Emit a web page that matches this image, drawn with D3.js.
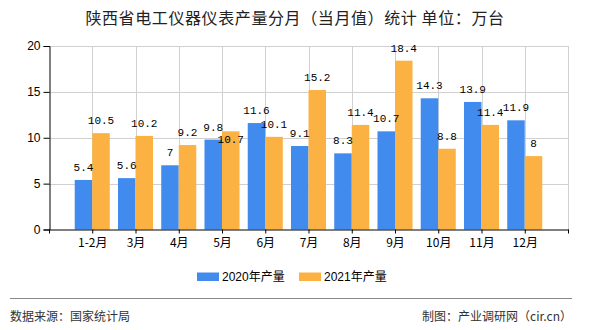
<!DOCTYPE html>
<html><head><meta charset="utf-8">
<script src="https://cdn.jsdelivr.net/npm/d3@7"></script>
<style>body{margin:0;background:#fff;}svg{display:block;}</style>
</head><body>
<svg id="c" width="590" height="330"></svg>
<script>
const categories = ["1-2月","3月","4月","5月","6月","7月","8月","9月","10月","11月","12月"];
const values2020 = [5.4,5.6,7,9.8,11.6,9.1,8.3,10.7,14.3,13.9,11.9];
const values2021 = [10.5,10.2,9.2,10.7,10.1,15.2,11.4,18.4,8.8,11.4,8];
const seriesNames = ["2020年产量","2021年产量"];
const yTicks = [0,5,10,15,20];
const colors = ["#418BEE","#FBB242"];

const svg = d3.select("#c");
const L = 49, R = 568, T = 46, B = 229.5;
const step = (R - L) / (categories.length + 1);
const x = d3.scalePoint().domain(categories).range([L + step, R - step]);
const y = d3.scaleLinear().domain([0, 20]).range([B, T]);
const bw = step * 0.405;

// title
svg.append("text").attr("x", 295).attr("y", 24).attr("text-anchor","middle")
  .attr("font-family","'Noto Sans CJK SC'").attr("font-size",16).attr("letter-spacing","0.6px")
  .attr("fill","#222").text("陕西省电工仪器仪表产量分月（当月值）统计 单位：万台");

// grid
const g = svg.append("g");
g.selectAll(".hg").data(yTicks.filter(d=>d>0)).join("line")
  .attr("x1",L).attr("x2",R).attr("y1",d=>Math.round(y(d))+0.5).attr("y2",d=>Math.round(y(d))+0.5)
  .attr("stroke","#d0d0d0").attr("stroke-width",1);
g.selectAll(".vg").data(categories).join("line")
  .attr("x1",d=>Math.round(x(d))+0.5).attr("x2",d=>Math.round(x(d))+0.5).attr("y1",T).attr("y2",B)
  .attr("stroke","#d0d0d0");
g.append("line").attr("x1",R+0.5).attr("x2",R+0.5).attr("y1",T).attr("y2",B).attr("stroke","#d0d0d0");

// bars
const bars = svg.append("g");
[values2020, values2021].forEach((vals, si) => {
  bars.selectAll(".b"+si).data(vals).join("rect")
    .attr("x",(d,i)=> x(categories[i]) - (si===0 ? bw : 0))
    .attr("width", bw)
    .attr("y", d=>y(d)).attr("height", d=>B - y(d))
    .attr("fill", colors[si]);
});

// axes
const yAxis = svg.append("g").attr("transform",`translate(${L+0.5},0)`)
  .call(d3.axisLeft(y).tickValues(yTicks).tickSize(6).tickPadding(3));
yAxis.select(".domain").attr("stroke","#000");
yAxis.selectAll("text").attr("font-family","'Liberation Sans',sans-serif").attr("font-size",12).attr("fill","#000");

const xAxis = svg.append("g").attr("transform",`translate(0,${B})`)
  .call(d3.axisBottom(x).tickSize(4).tickPadding(5).tickSizeOuter(0));
xAxis.select(".domain").attr("d",`M${L},0.5H${R+1}`).attr("stroke","#000");
xAxis.selectAll("text").attr("font-family","'Noto Sans CJK SC'").attr("font-size",12).attr("fill","#000");
xAxis.append("line").attr("x1",L+0.5).attr("x2",L+0.5).attr("y1",0).attr("y2",4).attr("stroke","#000");
xAxis.append("line").attr("x1",R+0.5).attr("x2",R+0.5).attr("y1",0).attr("y2",4).attr("stroke","#000");

// value labels with simple collision avoidance
const lbl = svg.append("g").attr("font-family","'Liberation Mono',monospace").attr("font-size",11).attr("fill","#000").attr("text-anchor","middle");
const cw = 6.6, lh = 12;
categories.forEach((c,i)=>{
  const cx0 = x(c) - bw/2, cx1 = x(c) + bw/2;
  const v0 = values2020[i], v1 = values2021[i];
  const y0 = y(v0) - 9;
  let y1 = y(v1) - 9;
  const w0 = String(v0).length*cw, w1 = String(v1).length*cw;
  const overlapX = (cx0 + w0/2) > (cx1 - w1/2);
  if (overlapX && Math.abs(y1 - y0) < lh) y1 = y0 + lh;
  lbl.append("text").attr("x",cx0).attr("y",y0).text(v0);
  lbl.append("text").attr("x",cx1).attr("y",y1).text(v1);
});

// legend
const leg = svg.append("g");
const legX = [197, 299];
seriesNames.forEach((n,i)=>{
  leg.append("rect").attr("x",legX[i]).attr("y",272.5).attr("width",22).attr("height",8.5).attr("fill",colors[i]);
  leg.append("text").attr("x",legX[i]+25).attr("y",281).attr("font-family","'Liberation Sans','Noto Sans CJK SC',sans-serif")
    .attr("font-size",12).attr("fill","#000").text(n);
});

// footer
svg.append("line").attr("x1",10).attr("x2",572).attr("y1",298.5).attr("y2",298.5).attr("stroke","#888").attr("stroke-width",1);
svg.append("text").attr("x",10).attr("y",321).attr("font-family","'Noto Sans CJK SC'").attr("font-size",12).attr("fill","#333").text("数据来源：国家统计局");
svg.append("text").attr("x",572).attr("y",321).attr("text-anchor","end").attr("font-family","'Noto Sans CJK SC'").attr("font-size",12).attr("fill","#333").text("制图：产业调研网（cir.cn）");
</script>
</body></html>
